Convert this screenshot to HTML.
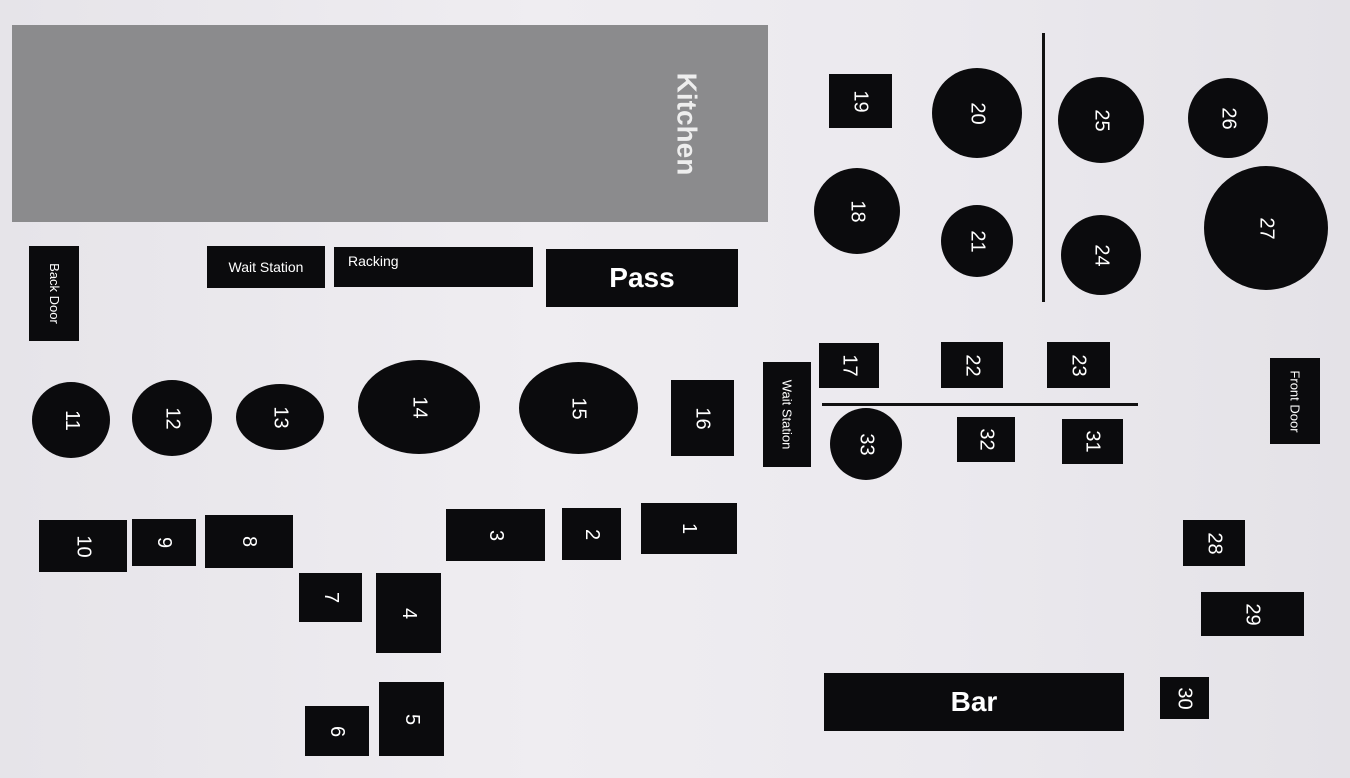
<!DOCTYPE html>
<html><head><meta charset="utf-8"><style>
html,body{margin:0;padding:0}
body{width:1350px;height:778px;background:#d9d7dc;position:relative;overflow:hidden;font-family:"Liberation Sans",sans-serif}
.paper{position:absolute;left:0;top:0;width:1350px;height:778px;background:linear-gradient(90deg,#e6e4e9 0%,#efedf1 40%,#ebe9ee 70%,#e4e2e7 100%)}
.b{position:absolute;background:#0b0b0d;color:#fff;display:flex;align-items:center;justify-content:center}
.c{border-radius:50%}
.b span{display:block;transform:rotate(90deg);white-space:nowrap;font-size:20px}
.h span{transform:none;font-size:14px}
</style></head><body>
<div class="paper"></div>
<div class="b" style="left:12px;top:25px;width:756px;height:197px;background:#8b8b8d;justify-content:flex-end"><span style="font-size:28px;font-weight:bold;margin-right:30px;color:#eee">Kitchen</span></div>
<div class="b" style="left:29px;top:246px;width:50px;height:95px"><span style="font-size:13px">Back Door</span></div>
<div class="b h" style="left:207px;top:246px;width:118px;height:42px"><span>Wait Station</span></div>
<div class="b h" style="left:334px;top:247px;width:199px;height:40px;justify-content:flex-start"><span style="margin-left:14px;margin-top:-12px">Racking</span></div>
<div class="b h" style="left:546px;top:249px;width:192px;height:58px"><span style="font-size:28px;font-weight:bold">Pass</span></div>
<div class="b" style="left:829px;top:74px;width:63px;height:54px"><span>19</span></div>
<div class="b c" style="left:932px;top:68px;width:90px;height:90px"><span>20</span></div>
<div class="b c" style="left:1058px;top:77px;width:86px;height:86px"><span>25</span></div>
<div class="b c" style="left:1188px;top:78px;width:80px;height:80px"><span>26</span></div>
<div class="b c" style="left:814px;top:168px;width:86px;height:86px"><span>18</span></div>
<div class="b c" style="left:941px;top:205px;width:72px;height:72px"><span>21</span></div>
<div class="b c" style="left:1061px;top:215px;width:80px;height:80px"><span>24</span></div>
<div class="b c" style="left:1204px;top:166px;width:124px;height:124px"><span>27</span></div>
<div style="position:absolute;left:1042px;top:33px;width:3px;height:269px;background:#111"></div>
<div class="b" style="left:819px;top:343px;width:60px;height:45px"><span>17</span></div>
<div class="b" style="left:941px;top:342px;width:62px;height:46px"><span>22</span></div>
<div class="b" style="left:1047px;top:342px;width:63px;height:46px"><span>23</span></div>
<div style="position:absolute;left:822px;top:403px;width:316px;height:3px;background:#111"></div>
<div class="b" style="left:763px;top:362px;width:48px;height:105px"><span style="font-size:13px">Wait Station</span></div>
<div class="b" style="left:1270px;top:358px;width:50px;height:86px"><span style="font-size:13px">Front Door</span></div>
<div class="b c" style="left:830px;top:408px;width:72px;height:72px"><span>33</span></div>
<div class="b" style="left:957px;top:417px;width:58px;height:45px"><span>32</span></div>
<div class="b" style="left:1062px;top:419px;width:61px;height:45px"><span>31</span></div>
<div class="b c" style="left:32px;top:382px;width:78px;height:76px"><span>11</span></div>
<div class="b c" style="left:132px;top:380px;width:80px;height:76px"><span>12</span></div>
<div class="b c" style="left:236px;top:384px;width:88px;height:66px"><span>13</span></div>
<div class="b c" style="left:358px;top:360px;width:122px;height:94px"><span>14</span></div>
<div class="b c" style="left:519px;top:362px;width:119px;height:92px"><span>15</span></div>
<div class="b" style="left:671px;top:380px;width:63px;height:76px"><span>16</span></div>
<div class="b" style="left:39px;top:520px;width:88px;height:52px"><span>10</span></div>
<div class="b" style="left:132px;top:519px;width:64px;height:47px"><span>9</span></div>
<div class="b" style="left:205px;top:515px;width:88px;height:53px"><span>8</span></div>
<div class="b" style="left:446px;top:509px;width:99px;height:52px"><span>3</span></div>
<div class="b" style="left:562px;top:508px;width:59px;height:52px"><span>2</span></div>
<div class="b" style="left:641px;top:503px;width:96px;height:51px"><span>1</span></div>
<div class="b" style="left:299px;top:573px;width:63px;height:49px"><span>7</span></div>
<div class="b" style="left:376px;top:573px;width:65px;height:80px"><span>4</span></div>
<div class="b" style="left:379px;top:682px;width:65px;height:74px"><span>5</span></div>
<div class="b" style="left:305px;top:706px;width:64px;height:50px"><span>6</span></div>
<div class="b h" style="left:824px;top:673px;width:300px;height:58px"><span style="font-size:28px;font-weight:bold">Bar</span></div>
<div class="b" style="left:1160px;top:677px;width:49px;height:42px"><span>30</span></div>
<div class="b" style="left:1183px;top:520px;width:62px;height:46px"><span>28</span></div>
<div class="b" style="left:1201px;top:592px;width:103px;height:44px"><span>29</span></div>
</body></html>
